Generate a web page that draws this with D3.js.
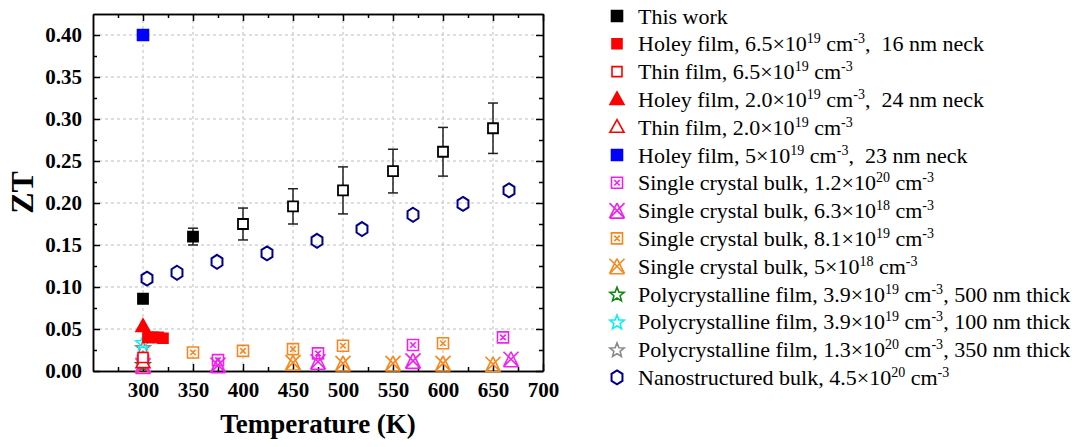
<!DOCTYPE html>
<html>
<head>
<meta charset="utf-8">
<script src="https://cdn.jsdelivr.net/npm/d3@7"></script>
<style>
  html, body { margin: 0; padding: 0; background: #fff; }
  svg { display: block; }
  text { font-family: "Liberation Serif", "Times New Roman", serif; }
</style>
</head>
<body>
<svg id="chart" width="1075" height="447"></svg>
<script>
// ZT versus temperature for Si-based thermoelectric samples

// This work (error bars are +/- values)
const thisWorkT   = [300, 350, 400, 450, 500, 550, 600, 650];
const thisWorkZT  = [0.086, 0.160, 0.175, 0.196, 0.215, 0.238, 0.261, 0.289];
const thisWorkErr = [0.005, 0.010, 0.019, 0.021, 0.028, 0.026, 0.029, 0.030];

// Holey film, 6.5e19 cm-3, 16 nm neck
const holey16T  = [305, 310, 315, 320];
const holey16ZT = [0.040, 0.040, 0.040, 0.039];
// Thin film, 6.5e19 cm-3
const thin65T  = [300];
const thin65ZT = [0.016];
// Holey film, 2.0e19 cm-3, 24 nm neck
const holey24T  = [300];
const holey24ZT = [0.053];
// Thin film, 2.0e19 cm-3
const thin20T  = [300];
const thin20ZT = [0.010];
// Holey film, 5e19 cm-3, 23 nm neck
const holey23T  = [300];
const holey23ZT = [0.400];
// Single crystal bulk, 1.2e20 cm-3
const sc12T  = [300, 375, 475, 570, 660];
const sc12ZT = [0.012, 0.013, 0.021, 0.031, 0.040];
// Single crystal bulk, 6.3e18 cm-3
const sc63T  = [300, 375, 475, 570, 668];
const sc63ZT = [0.006, 0.007, 0.011, 0.012, 0.014];
// Single crystal bulk, 8.1e19 cm-3
const sc81T  = [350, 400, 450, 500, 600];
const sc81ZT = [0.022, 0.024, 0.026, 0.030, 0.033];
// Single crystal bulk, 5e18 cm-3
const sc5T  = [300, 450, 500, 550, 600, 650];
const sc5ZT = [0.007, 0.010, 0.009, 0.009, 0.009, 0.008];
// Polycrystalline films
const poly500T  = [300];
const poly500ZT = [0.008];
const poly100T  = [300];
const poly100ZT = [0.034];
const poly350T  = [300];
const poly350ZT = [0.028];
// Nanostructured bulk, 4.5e20 cm-3
const nanoT  = [304, 334, 374, 424, 474, 519, 570, 620, 666];
const nanoZT = [0.110, 0.117, 0.130, 0.140, 0.155, 0.169, 0.186, 0.199, 0.215];

const xTicks = [300, 350, 400, 450, 500, 550, 600, 650, 700];
const yTicks = [0.00, 0.05, 0.10, 0.15, 0.20, 0.25, 0.30, 0.35, 0.40];

const svg = d3.select("#chart");
svg.append("rect").attr("width", 1075).attr("height", 447).attr("fill", "#fff");

const plotL = 93, plotR = 543, plotT = 14, plotB = 371;
const x = d3.scaleLinear().domain([250, 700]).range([plotL, plotR]);
const y = d3.scaleLinear().domain([0, 0.425]).range([plotB, plotT]);

// grid
const grid = svg.append("g").attr("stroke", "#bdbdbd").attr("stroke-width", 1)
  .attr("stroke-dasharray", "3,3");
xTicks.filter(t => t < 700).forEach(t => {
  grid.append("line").attr("x1", x(t)).attr("x2", x(t)).attr("y1", plotT).attr("y2", plotB);
});
yTicks.filter(t => t > 0).forEach(t => {
  grid.append("line").attr("x1", plotL).attr("x2", plotR).attr("y1", y(t)).attr("y2", y(t));
});

// axes with inward ticks
const minorX = d3.range(275, 700, 50);
const minorY = d3.range(0.025, 0.425, 0.05);

function styleAxis(g) {
  g.selectAll("path.domain").attr("stroke", "#000").attr("stroke-width", 1.5);
  g.selectAll(".tick line").attr("stroke", "#000").attr("stroke-width", 1.5);
}

const xAxis = svg.append("g").attr("transform", `translate(0,${plotB})`)
  .call(d3.axisBottom(x).tickValues(xTicks).tickSizeInner(-7).tickSizeOuter(0).tickPadding(11))
  .call(styleAxis);
xAxis.selectAll("text").attr("font-size", 21).attr("font-weight", "bold")
  .attr("font-family", "Liberation Serif").attr("fill", "#000");
svg.append("g").attr("transform", `translate(0,${plotB})`)
  .call(d3.axisBottom(x).tickValues(minorX).tickSizeInner(-4).tickSizeOuter(0).tickFormat(""))
  .call(styleAxis);

svg.append("g").attr("transform", `translate(0,${plotT})`)
  .call(d3.axisTop(x).tickValues(xTicks).tickSizeInner(-7).tickSizeOuter(0).tickFormat(""))
  .call(styleAxis);
svg.append("g").attr("transform", `translate(0,${plotT})`)
  .call(d3.axisTop(x).tickValues(minorX).tickSizeInner(-4).tickSizeOuter(0).tickFormat(""))
  .call(styleAxis);

const yAxis = svg.append("g").attr("transform", `translate(${plotL},0)`)
  .call(d3.axisLeft(y).tickValues(yTicks).tickSizeInner(-7).tickSizeOuter(0).tickPadding(11).tickFormat(d3.format(".2f")))
  .call(styleAxis);
yAxis.selectAll("text").attr("font-size", 21).attr("font-weight", "bold")
  .attr("font-family", "Liberation Serif").attr("fill", "#000");
svg.append("g").attr("transform", `translate(${plotL},0)`)
  .call(d3.axisLeft(y).tickValues(minorY).tickSizeInner(-4).tickSizeOuter(0).tickFormat(""))
  .call(styleAxis);

svg.append("g").attr("transform", `translate(${plotR},0)`)
  .call(d3.axisRight(y).tickValues(yTicks).tickSizeInner(-7).tickSizeOuter(0).tickFormat(""))
  .call(styleAxis);
svg.append("g").attr("transform", `translate(${plotR},0)`)
  .call(d3.axisRight(y).tickValues(minorY).tickSizeInner(-4).tickSizeOuter(0).tickFormat(""))
  .call(styleAxis);

// axis titles
svg.append("text").attr("x", (plotL + plotR) / 2).attr("y", 433)
  .attr("text-anchor", "middle").attr("font-size", 27).attr("font-weight", "bold")
  .text("Temperature (K)");
svg.append("text").attr("transform", `translate(33,${(plotT + plotB) / 2}) rotate(-90)`)
  .attr("text-anchor", "middle").attr("font-size", 32).attr("font-weight", "bold")
  .text("ZT");

// marker shapes
const markerPaths = {
  square: s => `M${-s/2},${-s/2}h${s}v${s}h${-s}Z`,
  triangle: s => { const h = s * 0.9; return `M0,${-h*0.6}L${s/2},${h*0.4}L${-s/2},${h*0.4}Z`; },
  boxX: s => `M${-s/2},${-s/2}h${s}v${s}h${-s}Z M${-s/4},${-s/4}L${s/4},${s/4}M${s/4},${-s/4}L${-s/4},${s/4}`,
  triX: s => `M0,${-s/2}L${s/2},${s/2}M0,${-s/2}L${-s/2},${s/2}M${-s/2},${-s/2}L${s/2},${s/2}M${s/2},${-s/2}L${-s/2},${s/2}M${-s/2},${s/2}L${s/2},${s/2}`,
  star: s => {
    const pts = [];
    for (let i = 0; i < 10; i++) {
      const r = i % 2 === 0 ? s / 2 : s / 4.6;
      const a = -Math.PI / 2 + i * Math.PI / 5;
      pts.push([r * Math.cos(a), r * Math.sin(a) + s * 0.05]);
    }
    return "M" + pts.map(p => p.join(",")).join("L") + "Z";
  },
  hexagon: s => {
    const pts = [];
    for (let i = 0; i < 6; i++) {
      const a = -Math.PI / 2 + i * Math.PI / 3;
      pts.push([(s / 2) * 0.9 * Math.cos(a), (s / 2) * Math.sin(a)]);
    }
    return "M" + pts.map(p => p.join(",")).join("L") + "Z";
  }
};

function drawMarker(g, cx, cy, m) {
  const hollowNoFill = ["boxX", "triX", "star", "hexagon"].includes(m.shape);
  g.append("path")
    .attr("transform", `translate(${cx},${cy})`)
    .attr("d", markerPaths[m.shape](m.size))
    .attr("fill", m.filled ? m.color : (hollowNoFill ? "none" : "#fff"))
    .attr("stroke", m.color)
    .attr("stroke-width", m.sw || 1.6)
    .attr("stroke-linejoin", "miter");
}

const series = [
  { name: ["This work"], T: thisWorkT, ZT: thisWorkZT, shape: "square", color: "#000", filled: true, size: 11 },
  { name: ["Holey film, 6.5×10", "19", " cm", "-3", ",  16 nm neck"], T: holey16T, ZT: holey16ZT, shape: "square", color: "#ff0000", filled: true, size: 10 },
  { name: ["Thin film, 6.5×10", "19", " cm", "-3"], T: thin65T, ZT: thin65ZT, shape: "square", color: "#ff0000", filled: false, size: 10 },
  { name: ["Holey film, 2.0×10", "19", " cm", "-3", ",  24 nm neck"], T: holey24T, ZT: holey24ZT, shape: "triangle", color: "#ff0000", filled: true, size: 14 },
  { name: ["Thin film, 2.0×10", "19", " cm", "-3"], T: thin20T, ZT: thin20ZT, shape: "triangle", color: "#ff0000", filled: false, size: 14 },
  { name: ["Holey film, 5×10", "19", " cm", "-3", ",  23 nm neck"], T: holey23T, ZT: holey23ZT, shape: "square", color: "#0000ff", filled: true, size: 11 },
  { name: ["Single crystal bulk, 1.2×10", "20", " cm", "-3"], T: sc12T, ZT: sc12ZT, shape: "boxX", color: "#ee22ee", filled: false, size: 11 },
  { name: ["Single crystal bulk, 6.3×10", "18", " cm", "-3"], T: sc63T, ZT: sc63ZT, shape: "triX", color: "#ee22ee", filled: false, size: 15 },
  { name: ["Single crystal bulk, 8.1×10", "19", " cm", "-3"], T: sc81T, ZT: sc81ZT, shape: "boxX", color: "#f7881f", filled: false, size: 11 },
  { name: ["Single crystal bulk, 5×10", "18", " cm", "-3"], T: sc5T, ZT: sc5ZT, shape: "triX", color: "#f7881f", filled: false, size: 15 },
  { name: ["Polycrystalline film, 3.9×10", "19", " cm", "-3", ", 500 nm thick"], T: poly500T, ZT: poly500ZT, shape: "star", color: "#118811", filled: false, size: 15 },
  { name: ["Polycrystalline film, 3.9×10", "19", " cm", "-3", ", 100 nm thick"], T: poly100T, ZT: poly100ZT, shape: "star", color: "#11eeee", filled: false, size: 15 },
  { name: ["Polycrystalline film, 1.3×10", "20", " cm", "-3", ", 350 nm thick"], T: poly350T, ZT: poly350ZT, shape: "star", color: "#888888", filled: false, size: 15 },
  { name: ["Nanostructured bulk, 4.5×10", "20", " cm", "-3"], T: nanoT, ZT: nanoZT, shape: "hexagon", color: "#000088", filled: false, size: 14, sw: 2 }
];

const plot = svg.append("g");

// error bars for this work
const eb = plot.append("g").attr("stroke", "#222").attr("stroke-width", 1.5);
thisWorkT.forEach((t, i) => {
  const lo = y(thisWorkZT[i] - thisWorkErr[i]), hi = y(thisWorkZT[i] + thisWorkErr[i]);
  eb.append("line").attr("x1", x(t)).attr("x2", x(t)).attr("y1", lo).attr("y2", hi);
  eb.append("line").attr("x1", x(t) - 5).attr("x2", x(t) + 5).attr("y1", lo).attr("y2", lo);
  eb.append("line").attr("x1", x(t) - 5).attr("x2", x(t) + 5).attr("y1", hi).attr("y2", hi);
});

// reference data first, this work on top
series.slice(1).reverse().forEach(s => {
  s.T.forEach((t, i) => drawMarker(plot, x(t), y(s.ZT[i]), s));
});
const tw = series[0];
tw.T.forEach((t, i) => {
  // points up to 350 K shown solid, the rest hollow
  drawMarker(plot, x(t), y(tw.ZT[i]), Object.assign({}, tw, { filled: t <= 350, size: 10, sw: 1.8 }));
});

// legend
const legend = svg.append("g");
const rowH = 27.8, legY0 = 16, legMX = 617, legTX = 638;
series.forEach((s, i) => {
  const cy = legY0 + i * rowH;
  drawMarker(legend, legMX, cy, s);
  const txt = legend.append("text").attr("x", legTX).attr("y", cy + 7.5)
    .attr("font-size", 22).attr("fill", "#000")
    .style("white-space", "pre");
  s.name.forEach((part, k) => {
    const sup = k % 2 === 1;
    const ts = txt.append("tspan").text(part);
    if (sup) ts.attr("font-size", 14).attr("dy", -8);
    else if (k > 0) ts.attr("dy", 8);
  });
});
</script>
</body>
</html>
